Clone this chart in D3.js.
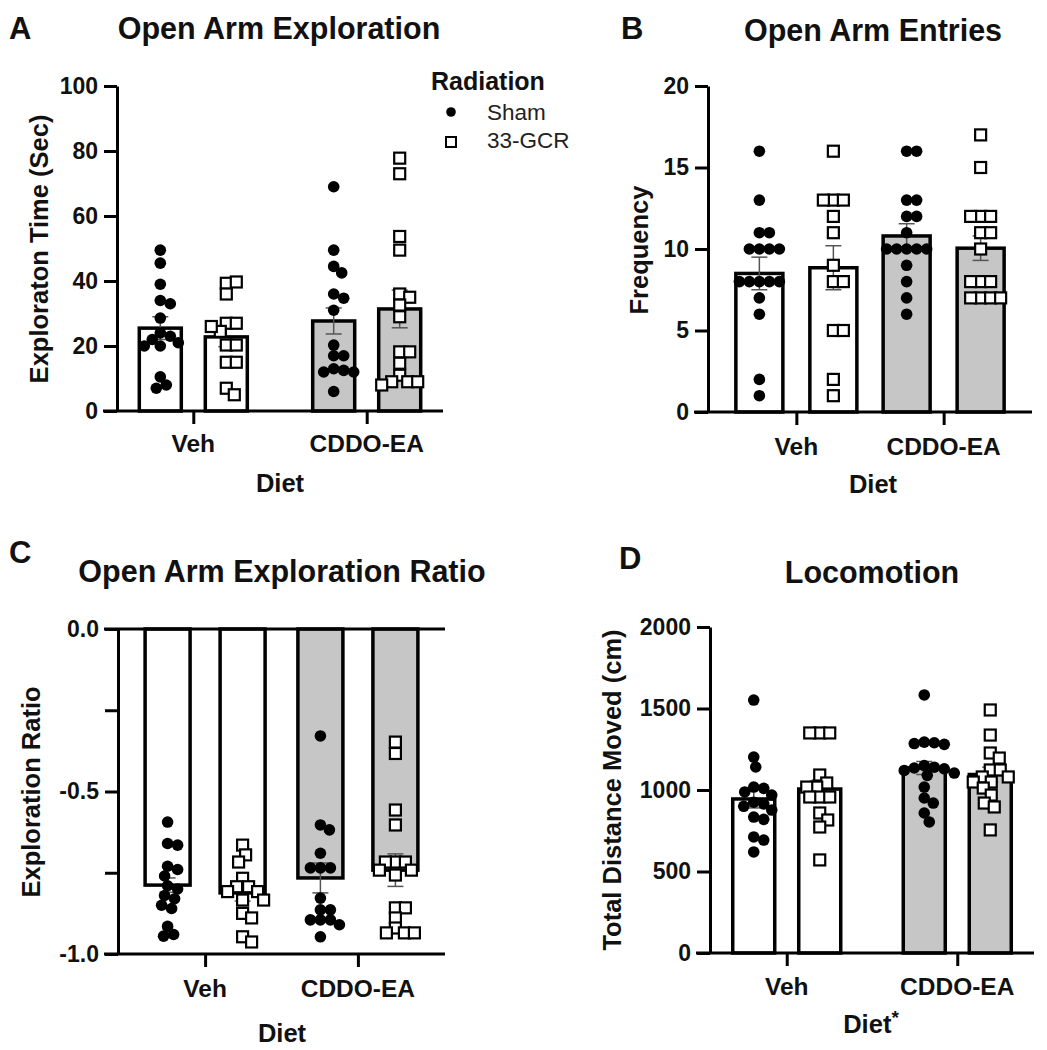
<!DOCTYPE html>
<html>
<head>
<meta charset="utf-8">
<script src="https://cdn.jsdelivr.net/npm/d3@7"></script>
<style>
  body { margin: 0; background: #fff; }
  text { font-family: "Liberation Sans", Arial, Helvetica, sans-serif; }
</style>
</head>
<body>
<svg width="1047" height="1050"></svg>
<script>
var diets = ["Veh", "CDDO-EA"];
var radiations = ["Sham", "33-GCR"];

// A - open arm exploration time (sec)
var aVehSham = [49.5, 45.5, 39, 34, 33, 28.6, 24, 23, 22, 21, 20, 20, 10.5, 8, 7];
var aVehGcr = [39.3, 39.7, 36, 27, 27, 24.5, 26, 20.3, 20.3, 15, 15, 7, 5];
var aCddoSham = [69, 49.5, 44.5, 42.5, 36, 34.7, 31, 20.3, 17, 17, 13, 12.5, 12, 12, 6];
var aCddoGcr = [77.8, 73, 53.7, 49.5, 36, 35, 32.6, 29, 18.2, 18.2, 14.7, 11, 9, 9, 9, 8];
var aMeans = [25.5, 22.8, 27.7, 31.4];
var aSems = [3.5, 3.0, 4.0, 5.8];
var aTicks = [0, 20, 40, 60, 80, 100];

// B - open arm entries
var bVehSham = [16, 13, 11, 11, 10, 10, 10, 10, 8, 8, 8, 8, 8, 7, 6, 2, 1];
var bVehGcr = [16, 13, 13, 13, 12, 11, 9, 8, 8, 5, 5, 2, 1];
var bCddoSham = [16, 16, 13, 13, 12, 12, 11, 10, 10, 10, 10, 10, 9, 8, 7, 6];
var bCddoGcr = [17, 15, 12, 12, 12, 11, 11, 10, 8, 8, 8, 7, 7, 7, 7];
var bMeans = [8.5, 8.85, 10.8, 10.05];
var bSems = [1.0, 1.35, 0.75, 0.75];
var bTicks = [0, 5, 10, 15, 20];

// C - exploration ratio
var cVehSham = [-0.594, -0.66, -0.665, -0.73, -0.74, -0.76, -0.79, -0.80, -0.82, -0.83, -0.85, -0.86, -0.915, -0.94, -0.945];
var cVehGcr = [-0.665, -0.695, -0.717, -0.767, -0.793, -0.793, -0.808, -0.808, -0.834, -0.834, -0.875, -0.889, -0.947, -0.963];
var cCddoSham = [-0.329, -0.603, -0.618, -0.69, -0.735, -0.735, -0.735, -0.828, -0.864, -0.864, -0.895, -0.895, -0.895, -0.91, -0.947];
var cCddoGcr = [-0.348, -0.383, -0.557, -0.603, -0.717, -0.717, -0.717, -0.742, -0.742, -0.757, -0.858, -0.858, -0.889, -0.92, -0.935, -0.935, -0.935];
var cMeans = [-0.788, -0.812, -0.766, -0.742];
var cSems = [0.022, 0.025, 0.046, 0.05];
var cTicks = [0, -0.25, -0.5, -0.75, -1];
var cLabelled = [0, -0.5, -1];

// D - locomotion, total distance moved (cm)
var dVehSham = [1552, 1202, 1141, 1018, 1010, 988, 969, 925, 915, 900, 877, 834, 820, 712, 693, 620];
var dVehGcr = [1350, 1350, 1350, 1092, 1043, 1018, 1018, 957, 957, 957, 859, 816, 773, 571];
var dCddoSham = [1583, 1294, 1290, 1285, 1280, 1150, 1140, 1135, 1130, 1120, 1104, 1090, 1018, 951, 920, 859, 804];
var dCddoGcr = [1491, 1337, 1227, 1196, 1123, 1123, 1080, 1080, 1049, 1049, 1012, 969, 920, 896, 755];
var dMeans = [945, 1006, 1135, 1095];
var dSems = [55, 55, 40, 45];
var dTicks = [0, 500, 1000, 1500, 2000];

var svg = d3.select("svg");
var GREY = "#c6c6c6";

// greedy beeswarm in pixel space, like prism's scatter
function swarm(pys, minDist) {
	var placed = [];
	return pys.map(function(py) {
		for (var k = 0; k < 400; k++) {
			var dx = k === 0 ? 0 : (k % 2 ? (k + 1) / 2 : -k / 2);
			var ok = placed.every(function(p) {
				return (p.x - dx) * (p.x - dx) + (p.y - py) * (p.y - py) >= minDist * minDist;
			});
			if (ok) { placed.push({x: dx, y: py}); return dx; }
		}
		return 0;
	});
}

function panel(o) {
	var g = svg.append("g");
	var y = d3.scaleLinear().domain(o.yDomain).range([o.bottom, o.top]);
	var xg = d3.scalePoint().domain(diets).range([o.left, o.right]).padding(o.pad);
	var xr = d3.scalePoint().domain(radiations).range([-o.off, o.off]);
	var base = o.yDomain[0] < 0 ? y(0) : y(o.yDomain[0]);

	var bars = o.means.map(function(m, i) {
		return {diet: diets[Math.floor(i / 2)], rad: radiations[i % 2], mean: m, sem: o.sems[i], pts: o.values[i]};
	});
	bars.forEach(function(d) { d.cx = xg(d.diet) + xr(d.rad); });

	g.selectAll("rect.bar").data(bars).enter().append("rect")
		.attr("class", "bar")
		.attr("x", function(d) { return d.cx - o.bw / 2; })
		.attr("y", function(d) { return Math.min(y(d.mean), base); })
		.attr("width", o.bw)
		.attr("height", function(d) { return Math.abs(base - y(d.mean)); })
		.attr("fill", function(d) { return d.diet === "Veh" ? "#fff" : GREY; })
		.attr("stroke", "#000").attr("stroke-width", 3.5);

	// mean +/- sem
	var eb = g.selectAll("g.err").data(bars).enter().append("g").attr("class", "err")
		.attr("stroke", "#555").attr("stroke-width", 1.5);
	eb.append("line")
		.attr("x1", function(d) { return d.cx; }).attr("x2", function(d) { return d.cx; })
		.attr("y1", function(d) { return y(d.mean - d.sem); })
		.attr("y2", function(d) { return y(d.mean + d.sem); });
	[-1, 1].forEach(function(s) {
		eb.append("line")
			.attr("x1", function(d) { return d.cx - 8; }).attr("x2", function(d) { return d.cx + 8; })
			.attr("y1", function(d) { return y(d.mean + s * d.sem); })
			.attr("y2", function(d) { return y(d.mean + s * d.sem); });
	});

	// points
	bars.forEach(function(d) {
		var pys = d.pts.map(function(v) { return y(v); });
		var dxs = swarm(pys, 10);
		var pts = pys.map(function(py, j) { return {x: d.cx + dxs[j], y: py}; });
		if (d.rad === "Sham") {
			g.append("g").selectAll("circle").data(pts).enter().append("circle")
				.attr("cx", function(p) { return p.x; })
				.attr("cy", function(p) { return p.y; })
				.attr("r", 5.8).attr("fill", "#000");
		} else {
			g.append("g").selectAll("rect").data(pts).enter().append("rect")
				.attr("x", function(p) { return p.x - 5.5; })
				.attr("y", function(p) { return p.y - 5.5; })
				.attr("width", 11).attr("height", 11)
				.attr("fill", "#fff").attr("stroke", "#000").attr("stroke-width", 2.2);
		}
	});

	// y axis
	var yAxis = d3.axisLeft(y).tickValues(o.yTicks).tickSize(13).tickSizeOuter(0).tickPadding(6)
		.tickFormat(o.fmt);
	var ya = g.append("g").attr("transform", "translate(" + o.left + ",0)").call(yAxis);
	ya.selectAll("path, line").attr("stroke", "#000").attr("stroke-width", 3);
	ya.selectAll("text").attr("font-size", 23).attr("font-weight", "bold").attr("fill", "#111");

	// x axis
	var xAxis = d3.axisBottom(xg).tickSize(13).tickSizeOuter(0).tickPadding(0).tickFormat("");
	var xa = g.append("g").attr("transform", "translate(0," + o.bottom + ")").call(xAxis);
	xa.select(".domain").remove();
	xa.selectAll("line").attr("stroke", "#000").attr("stroke-width", 3);
	g.append("line").attr("x1", o.left - 14).attr("x2", o.right)
		.attr("y1", o.bottom).attr("y2", o.bottom)
		.attr("stroke", "#000").attr("stroke-width", 3);
	if (o.yDomain[0] < 0) {
		g.append("line").attr("x1", o.left - 14).attr("x2", o.right)
			.attr("y1", y(0)).attr("y2", y(0))
			.attr("stroke", "#000").attr("stroke-width", 3);
	}
	g.selectAll("text.cat").data(diets).enter().append("text")
		.attr("class", "cat")
		.attr("x", function(d) { return xg(d); })
		.attr("y", o.catY)
		.attr("text-anchor", "middle")
		.attr("font-size", 24.5).attr("font-weight", "bold").attr("fill", "#111")
		.text(function(d) { return d; });

	var xt = g.append("text").attr("x", o.xtX).attr("y", o.xtY)
		.attr("text-anchor", "middle").attr("font-size", 25.5).attr("font-weight", "bold").attr("fill", "#111")
		.text("Diet");
	if (o.star) xt.append("tspan").attr("dy", -9).attr("font-size", 19).text("*");

	g.append("text")
		.attr("transform", "translate(" + o.ytX + "," + o.ytY + ") rotate(-90)")
		.attr("text-anchor", "middle").attr("font-size", 25.5).attr("font-weight", "bold").attr("fill", "#111")
		.text(o.yLabel);

	g.append("text").attr("x", o.titleX).attr("y", o.titleY)
		.attr("text-anchor", "middle").attr("font-size", 30.5).attr("font-weight", "bold").attr("fill", "#111")
		.text(o.title);
	g.append("text").attr("x", o.letterX).attr("y", o.letterY)
		.attr("font-size", 31).attr("font-weight", "bold").attr("fill", "#111")
		.text(o.letter);
}

var intFmt = function(v) { return String(v); };

panel({letter: "A", letterX: 9, letterY: 39, title: "Open Arm Exploration", titleX: 279, titleY: 39,
	left: 117, right: 443, top: 86, bottom: 411, pad: 0.44, off: 33, bw: 42,
	yDomain: [0, 100], yTicks: aTicks, fmt: intFmt, yLabel: "Exploraton Time (Sec)", ytX: 48, ytY: 249,
	values: [aVehSham, aVehGcr, aCddoSham, aCddoGcr], means: aMeans, sems: aSems,
	catY: 452, xtX: 280, xtY: 492});

panel({letter: "B", letterX: 621, letterY: 39, title: "Open Arm Entries", titleX: 873, titleY: 41,
	left: 708, right: 1032, top: 86, bottom: 412, pad: 0.6, off: 37, bw: 47,
	yDomain: [0, 20], yTicks: bTicks, fmt: intFmt, yLabel: "Frequency", ytX: 648, ytY: 250,
	values: [bVehSham, bVehGcr, bCddoSham, bCddoGcr], means: bMeans, sems: bSems,
	catY: 455, xtX: 873, xtY: 493});

panel({letter: "C", letterX: 9, letterY: 563, title: "Open Arm Exploration Ratio", titleX: 282, titleY: 582,
	left: 118, right: 445, top: 629, bottom: 954, pad: 0.57, off: 37.5, bw: 45,
	yDomain: [-1, 0], yTicks: cTicks,
	fmt: function(v) { return cLabelled.indexOf(v) >= 0 ? v.toFixed(1) : ""; },
	yLabel: "Exploration Ratio", ytX: 40, ytY: 792,
	values: [cVehSham, cVehGcr, cCddoSham, cCddoGcr], means: cMeans, sems: cSems,
	catY: 997, xtX: 282, xtY: 1042});

panel({letter: "D", letterX: 619, letterY: 569, title: "Locomotion", titleX: 872, titleY: 583,
	left: 710, right: 1034, top: 627, bottom: 953, pad: 0.45, off: 33, bw: 42,
	yDomain: [0, 2000], yTicks: dTicks, fmt: intFmt, yLabel: "Total Distance Moved (cm)", ytX: 621, ytY: 790,
	values: [dVehSham, dVehGcr, dCddoSham, dCddoGcr], means: dMeans, sems: dSems,
	catY: 995, xtX: 871, xtY: 1033, star: true});

// legend
var lg = svg.append("g");
lg.append("text").attr("x", 431).attr("y", 90).attr("font-size", 25).attr("font-weight", "bold")
	.attr("fill", "#111").text("Radiation");
lg.append("circle").attr("cx", 451).attr("cy", 112).attr("r", 4.8).attr("fill", "#000");
lg.append("rect").attr("x", 446).attr("y", 137).attr("width", 10).attr("height", 10)
	.attr("fill", "#fff").attr("stroke", "#000").attr("stroke-width", 2);
lg.append("text").attr("x", 487).attr("y", 120).attr("font-size", 22.5).attr("fill", "#222").text(radiations[0]);
lg.append("text").attr("x", 487).attr("y", 148).attr("font-size", 22.5).attr("fill", "#222").text(radiations[1]);
</script>
</body>
</html>
